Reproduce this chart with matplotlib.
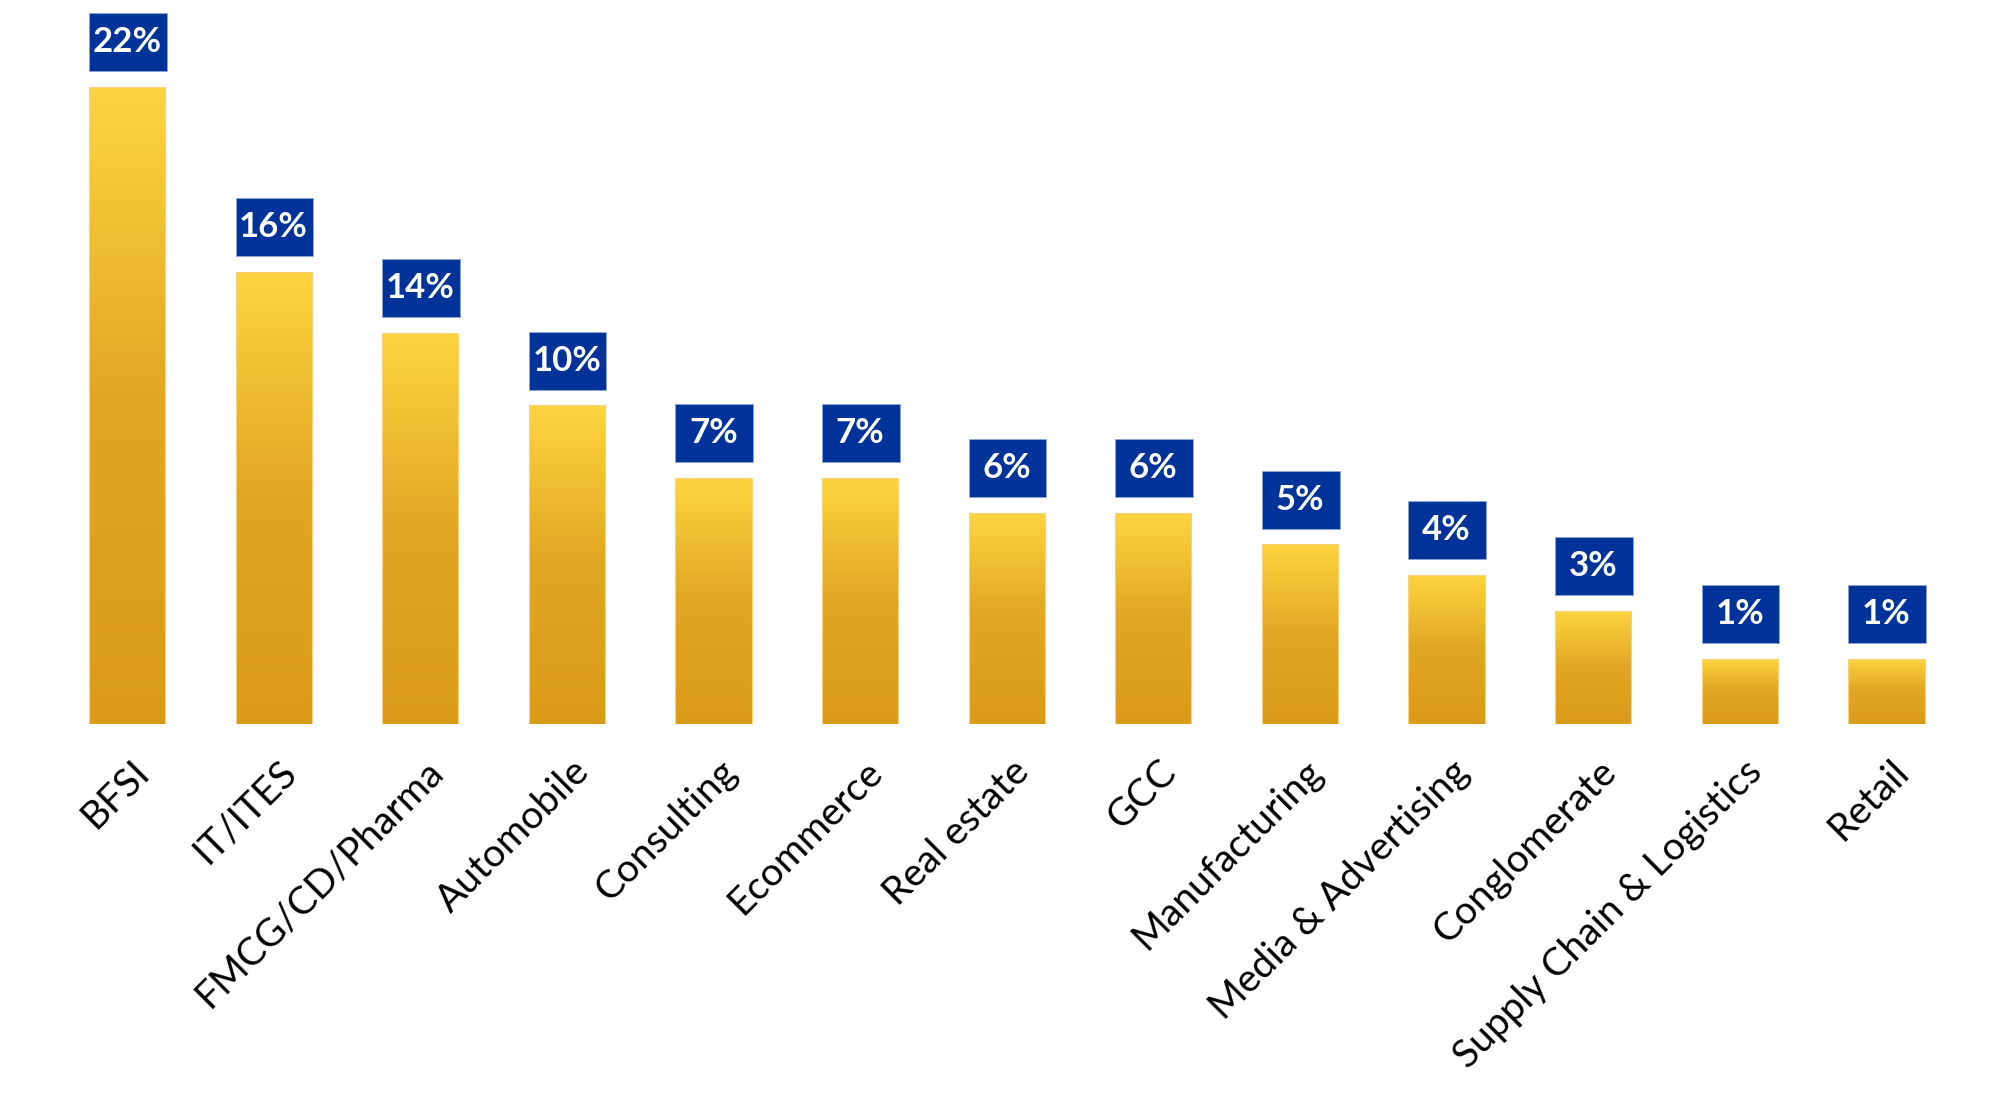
import numpy as np
import matplotlib
matplotlib.use("Agg")
import matplotlib.pyplot as plt
from matplotlib.colors import LinearSegmentedColormap
from matplotlib.patches import Rectangle
from matplotlib.transforms import ScaledTranslation

# data
sectors = ['BFSI', 'IT/ITES', 'FMCG/CD/Pharma', 'Automobile', 'Consulting', 'Ecommerce',
           'Real estate', 'GCC', 'Manufacturing', 'Media & Advertising', 'Conglomerate',
           'Supply Chain & Logistics', 'Retail']
bar_heights = [22.0, 15.6, 13.5, 11.0, 8.5, 8.5, 7.3, 7.3, 6.2, 5.15, 3.9, 2.25, 2.25]
pct_labels = ['22%', '16%', '14%', '10%', '7%', '7%', '6%', '6%', '5%', '4%', '3%', '1%', '1%']

plt.rcParams['font.family'] = ['Lato', 'DejaVu Sans']

fig = plt.figure(figsize=(20.03, 10.93), dpi=100)
ax = fig.add_axes([53.7 / 2003, (1093 - 724) / 1093, 1906 / 2003, 724 / 1093])

x = np.arange(len(sectors))
w = 0.52
bars = ax.bar(x, bar_heights, width=w, color='none', edgecolor='#f6d27c', linewidth=0.8, zorder=3)

cmap = LinearSegmentedColormap.from_list('gold', ['#da9c18', '#e1a623', '#fdd540'])
grad = np.linspace(0, 1, 256).reshape(-1, 1)
for b, h in zip(bars, bar_heights):
    im = ax.imshow(grad, cmap=cmap, aspect='auto', origin='lower',
                   extent=[b.get_x(), b.get_x() + w, 0, h], zorder=2)
    im.set_clip_path(b)

# navy value boxes above bars
for xi, h, lab in zip(x, bar_heights, pct_labels):
    y0 = h + 0.55
    ax.add_patch(Rectangle((xi - w / 2, y0), w + 0.01, 2.0, facecolor='#003399',
                           edgecolor='#8fa3d6', linewidth=0.6, zorder=4))
    ax.text(xi, y0 + 1.0, lab, ha='center', va='center', color='white',
            fontsize=25, fontweight='bold', zorder=5)

ax.set_xlim(-0.5, len(sectors) - 0.5)
ax.set_ylim(0, 25)
for s in ax.spines.values():
    s.set_visible(False)
ax.set_yticks([])
ax.set_xticks(x)
ax.set_xticklabels(sectors, rotation=45, ha='right', va='center',
                   rotation_mode='anchor', fontsize=28)
ax.tick_params(axis='x', length=0, pad=0)
off = ScaledTranslation(0.17, -0.42, fig.dpi_scale_trans)
for t in ax.get_xticklabels():
    t.set_transform(t.get_transform() + off)

fig.savefig('out.png', dpi=100)
